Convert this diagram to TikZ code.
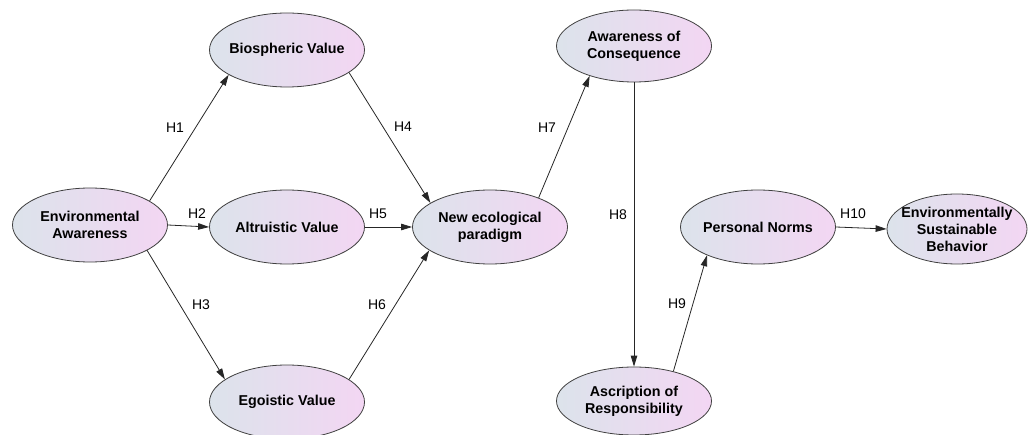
\documentclass[tikz,border=0pt]{standalone}
\usepackage{fontspec}
\setmainfont{Liberation Sans}
\usetikzlibrary{shapes.geometric,arrows.meta}
\definecolor{lbl}{HTML}{DCE3EB}
\definecolor{lpk}{HTML}{F3D6F3}
\definecolor{edge}{HTML}{404040}
\tikzset{
  construct/.style={ellipse, draw=edge, line width=0.8pt, left color=lbl, right color=lpk,
    minimum width=155pt, minimum height=74pt, inner xsep=-15pt, inner ysep=-8pt, align=center,
    font=\bfseries\fontsize{14.3}{17}\selectfont},
  link/.style={-{Triangle[length=11pt,width=6.5pt]}, line width=0.8pt, draw=black!85},
  hlab/.style={font=\fontsize{14}{16}\selectfont, inner sep=1pt}
}
\begin{document}
\begin{tikzpicture}[x=1pt,y=-1pt]
\useasboundingbox (0,0) rectangle (1032,435);
\node[construct] (ea) at (90,225) {Environmental\\Awareness};
\node[construct] (bv) at (287,50) {Biospheric Value};
\node[construct] (av) at (287,227) {Altruistic Value};
\node[construct] (ev) at (287,402) {Egoistic Value};
\node[construct] (nep) at (490,227) {New ecological\\paradigm};
\node[construct, minimum height=72pt] (ac) at (634,46) {Awareness of\\Consequence};
\node[construct, minimum height=68pt] (ar) at (634,401) {Ascription of\\Responsibility};
\node[construct] (pn) at (758,227) {Personal Norms};
\node[construct, minimum width=140pt, minimum height=70pt] (esb) at (957,229) {Environmentally\\Sustainable\\Behavior};

\draw[link] (ea.22) -- (bv.203);
\draw[link] (ea.east) -- (av.west);
\draw[link] (ea.336) -- (ev.160);
\draw[link] (bv.340) -- (nep.158);
\draw[link] (av.east) -- (nep.west);
\draw[link] (ev.20) -- (nep.201);
\draw[link] (nep.31) -- (ac.214);
\draw[link] (ac.south) -- (ar.north);
\draw[link] (ar.37) -- (pn.209);
\draw[link] (pn.east) -- (esb.west);

\node[hlab] (h1) at (175,128) {H1};
\node[hlab] (h2) at (197,214) {H2};
\node[hlab] (h3) at (201,305) {H3};
\node[hlab] (h4) at (403,127) {H4};
\node[hlab] (h5) at (378,214) {H5};
\node[hlab] (h6) at (377,305) {H6};
\node[hlab] (h7) at (547,128) {H7};
\node[hlab] (h8) at (618,215) {H8};
\node[hlab] (h9) at (677,304) {H9};
\node[hlab] (h10) at (853,214) {H10};
\end{tikzpicture}
\end{document}
